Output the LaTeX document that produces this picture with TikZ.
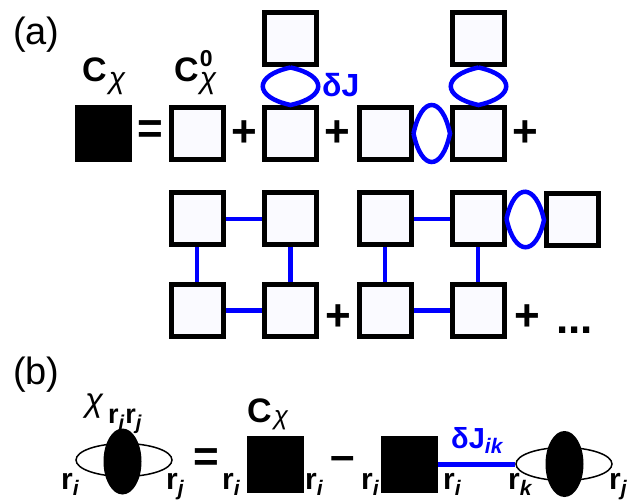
\documentclass[tikz,border=0pt]{standalone}
\usepackage{fontspec}
\setmainfont{Liberation Sans}
\usepackage{tikz}
\usetikzlibrary{shapes.geometric}
\definecolor{sitefill}{RGB}{250,250,255}
\definecolor{djblue}{RGB}{0,0,255}
\newcommand{\fsz}[1]{\fontsize{#1}{#1}\selectfont}
\newcommand{\rsub}[1]{{\fsz{30}\bfseries r\raisebox{-6pt}{\fsz{21}\itshape #1}}}
\tikzstyle{site}=[draw, line width=5pt, fill=sitefill, minimum size=52pt, inner sep=0pt]
\tikzstyle{full}=[fill=black, minimum size=57pt, inner sep=0pt]
\tikzstyle{ring}=[ellipse, draw, line width=1.5pt, minimum width=96pt, minimum height=33pt, inner sep=0pt]
\tikzstyle{blob}=[ellipse, fill=black, minimum width=38pt, minimum height=66pt, inner sep=0pt]
\tikzstyle{dj}=[draw=djblue, line width=4.5pt]
\tikzstyle{lbl}=[inner sep=0pt, anchor=base west]
\tikzstyle{op}=[inner sep=0pt, font=\fsz{44}\bfseries]

\begin{document}
\begin{tikzpicture}[x=1pt, y=-1pt]
		   \useasboundingbox (0,0) rectangle (638,500);
		   % (a) first row
		   \begin{scope}
			   \node (cx) at (103.5, 133.5)[full] {};
			   \node (s0) at (197.5, 133.5)[site] {};
			   \node (s1b) at (290.5, 133.5)[site] {};
			   \node (s1t) at (290.5, 39)[site] {};
			   \node (s2) at (385, 133.5)[site] {};
			   \node (s3b) at (478.5, 133.5)[site] {};
			   \node (s3t) at (478.5, 39)[site] {};
		   \end{scope}
		   % (a) second row
		   \begin{scope}
			   \node (p1) at (197, 219)[site] {};
			   \node (p2) at (290.5, 219)[site] {};
			   \node (p3) at (197, 310.5)[site] {};
			   \node (p4) at (290.5, 310.5)[site] {};
			   \node (q1) at (385, 219)[site] {};
			   \node (q2) at (478, 219)[site] {};
			   \node (q3) at (385, 310.5)[site] {};
			   \node (q4) at (478, 310.5)[site] {};
			   \node (q5) at (572.5, 220)[site] {};
		   \end{scope}
		   \begin{scope}
			   \draw [dj] (s1t.south) .. controls +(-37,8) and +(-37,-8) .. (s1b.north) .. controls +(37,-8) and +(37,8) .. (s1t.south);
			   \draw [dj] (s3t.south) .. controls +(-37,8) and +(-37,-8) .. (s3b.north) .. controls +(37,-8) and +(37,8) .. (s3t.south);
			   \draw [dj] (s2.east) .. controls +(8,-38) and +(-8,-38) .. (s3b.west) .. controls +(-8,38) and +(8,38) .. (s2.east);
			   \draw [dj] (q2.east) .. controls +(8,-37) and +(-8,-37) .. (q5.west) .. controls +(-8,37) and +(8,37) .. (q2.east);
			   \draw [dj] (p1) -- (p2);
			   \draw [dj] (p3) -- (p4);
			   \draw [dj] (p1) -- (p3);
			   \draw [dj] (p2) -- (p4);
			   \draw [dj] (q1) -- (q2);
			   \draw [dj] (q3) -- (q4);
			   \draw [dj] (q1) -- (q3);
			   \draw [dj] (q2) -- (q4);
		   \end{scope}
		   % (a) labels and signs
		   \node (la) at (13, 45)[lbl] {\fsz{38}(a)};
		   \node (tc) at (82, 82)[lbl] {\fsz{34}\bfseries C\kern2pt\raisebox{-7pt}{\fsz{30}\mdseries\itshape χ}};
		   \node (tc0) at (174, 82)[lbl] {\fsz{34}\bfseries C\kern1pt\rlap{\raisebox{15pt}{\fsz{23}0}}\raisebox{-7pt}{\fsz{30}\mdseries\itshape χ}};
		   \node (tdj) at (322, 97)[lbl, text=djblue] {\fsz{32}\bfseries δJ};
		   \node (eq1) at (150, 132.5)[op] {=};
		   \node (pl1) at (244, 133.5)[op] {+};
		   \node (pl2) at (337.5, 133.5)[op] {+};
		   \node (pl3) at (525.5, 133.5)[op] {+};
		   \node (pl4) at (338, 317.5)[op] {+};
		   \node (pl5) at (527.5, 317.5)[op] {+};
		   \node (dots) at (556, 334)[lbl, font=\fsz{44}\bfseries] {...};
		   % (b)
		   \begin{scope}
			   \node (r1) at (124, 460)[ring] {};
			   \node (b1) at (122.5, 461.5)[blob] {};
			   \node (f1) at (275, 464)[full] {};
			   \node (f2) at (409.5, 464)[full] {};
			   \node (r2) at (564, 464)[ring] {};
			   \node (b2) at (564.5, 464)[blob] {};
		   \end{scope}
		   \draw [dj, line width=5pt] (f2) -- (r2);
		   \node (lb) at (13, 384)[lbl] {\fsz{38}(b)};
		   \node (tchi) at (85, 411)[lbl] {\fsz{33}\itshape χ\kern5pt\raisebox{-12pt}{\fsz{27}\bfseries\upshape r\raisebox{-6pt}{\fsz{20}\itshape i}\kern1pt r\raisebox{-6pt}{\fsz{20}\itshape j}}};
		   \node (tc2) at (247, 422)[lbl] {\fsz{34}\bfseries C\kern2pt\raisebox{-2pt}{\fsz{26}\mdseries\itshape χ}};
		   \node (tdj2) at (451, 448)[lbl, text=djblue] {\fsz{29}\bfseries δJ\raisebox{-5pt}{\fsz{21}\itshape ik}};
		   \node (eq2) at (206, 460.5)[op] {=};
		   \node (mi) at (342.5, 464)[op] {–};
		   \node (ri1) at (61, 489)[lbl] {\rsub{i}};
		   \node (rj1) at (166, 489)[lbl] {\rsub{j}};
		   \node (ri2) at (222, 489)[lbl] {\rsub{i}};
		   \node (ri3) at (305, 489)[lbl] {\rsub{i}};
		   \node (ri4) at (361, 489)[lbl] {\rsub{i}};
		   \node (ri5) at (443, 489)[lbl] {\rsub{i}};
		   \node (rk) at (508, 489)[lbl] {\rsub{k}};
		   \node (rj2) at (609, 489)[lbl] {\rsub{j}};
	   \end{tikzpicture}
\end{document}
